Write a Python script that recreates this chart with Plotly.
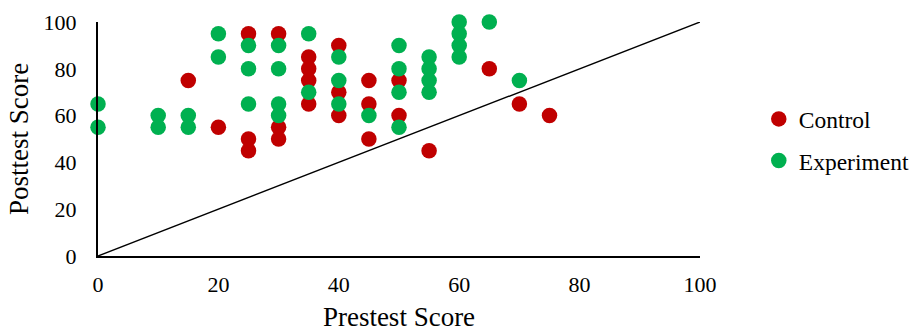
import plotly.graph_objects as go

control_pre = [15, 20, 25, 25, 25, 30, 30, 30, 35, 35, 35, 35, 40, 40, 40, 45, 45, 45, 50, 50, 55, 65, 70, 75]
control_post = [75, 55, 95, 50, 45, 95, 55, 50, 85, 80, 75, 65, 90, 70, 60, 75, 65, 50, 75, 60, 45, 80, 65, 60]

exp_pre = [0, 0, 10, 10, 15, 15, 20, 20, 25, 25, 25, 30, 30, 30, 30, 35, 35, 40, 40, 40, 45,
           50, 50, 50, 50, 55, 55, 55, 55, 60, 60, 60, 60, 65, 70]
exp_post = [65, 55, 60, 55, 60, 55, 95, 85, 90, 80, 65, 90, 80, 65, 60, 95, 70, 85, 75, 65, 60,
            90, 80, 70, 55, 85, 80, 75, 70, 100, 95, 90, 85, 100, 75]

ref_x = [0, 100]
ref_y = [0, 100]

x_ticks = [0, 20, 40, 60, 80, 100]
y_ticks = [0, 20, 40, 60, 80, 100]

font_family = "Liberation Serif, Times New Roman, serif"

fig = go.Figure()
fig.add_trace(go.Scatter(x=ref_x, y=ref_y, mode="lines", line=dict(color="black", width=1.4),
                         showlegend=False, hoverinfo="skip"))
fig.add_trace(go.Scatter(x=control_pre, y=control_post, mode="markers", name="Control",
                         legendgroup="c",
                         marker=dict(color="#C00000", size=15.5), cliponaxis=False))
fig.add_trace(go.Scatter(x=exp_pre, y=exp_post, mode="markers", name="Experiment",
                         legendgroup="e",
                         marker=dict(color="#00B050", size=15.5), cliponaxis=False))

fig.update_layout(
    width=912, height=332,
    margin=dict(l=98, r=212, t=22, b=76),
    paper_bgcolor="white", plot_bgcolor="white",
    font=dict(family=font_family, color="black", size=22),
    legend=dict(xref="container", yref="container", x=0.832, y=0.578,
                xanchor="left", yanchor="middle",
                font=dict(size=23.5), tracegroupgap=8, itemwidth=30,
                bgcolor="rgba(0,0,0,0)"),
    xaxis=dict(range=[0, 100], tickvals=x_ticks, showgrid=False, zeroline=False,
               showline=True, linecolor="black", linewidth=2, ticks="",
               tickfont=dict(size=22), ticklabelstandoff=8, automargin=False,
               title=dict(text="Prestest Score", font=dict(size=27), standoff=13)),
    yaxis=dict(range=[0, 100], tickvals=y_ticks, showgrid=False, zeroline=False,
               showline=True, linecolor="black", linewidth=2, ticks="",
               tickfont=dict(size=22), ticklabelstandoff=15, automargin=False,
               title=dict(text="Posttest Score", font=dict(size=27), standoff=7)),
)

fig.write_html("out.html", config={"displayModeBar": False},
               post_script="document.body.style.margin='0';")
